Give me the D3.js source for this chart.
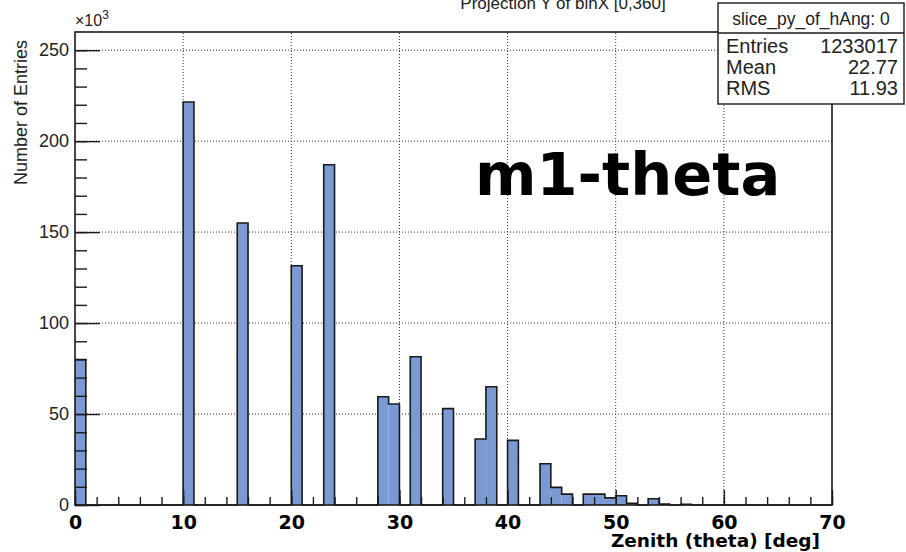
<!DOCTYPE html>
<html>
<head>
<meta charset="utf-8">
<script src="https://cdn.jsdelivr.net/npm/d3@7"></script>
<style>
  body { margin: 0; background: #fff; }
  svg { display: block; }
</style>
</head>
<body>
<div id="chart-area"></div>
<script>
// 1-degree bins (lower edge) and their contents, in units of 10^3 entries
const binLow = [0, 10, 15, 20, 23, 28, 29, 31, 34, 37, 38, 40, 43, 44, 45, 47, 48, 49, 50, 51, 53, 54, 56];
const counts = [80, 221.5, 155, 131.5, 187, 59.5, 55.5, 81.5, 53, 36.3, 65, 35.5, 22.7, 9.7, 6, 6, 6, 3.9, 5.1, 1, 3.4, 0.5, 0.4];

const xMajor = [0, 10, 20, 30, 40, 50, 60, 70];
const yMajor = [0, 50, 100, 150, 200, 250];
const statLabels = ["Entries", "Mean", "RMS"];
const statValues = ["1233017", "22.77", "11.93"];

const width = 906;
const height = 552;
const margin = { top: 32, left: 75, right: 74, bottom: 47 };
const plotW = width - margin.left - margin.right;
const plotH = height - margin.top - margin.bottom;

const svg = d3.select("#chart-area")
              .append("svg")
              .attr("width", width)
              .attr("height", height);

const x = d3.scaleLinear().domain([0, 70]).range([margin.left, margin.left + plotW]);
const y = d3.scaleLinear().domain([0, 260]).range([margin.top + plotH, margin.top]);

// dotted grid at major ticks
svg.append("g")
   .selectAll("line")
   .data(xMajor.filter(d => d > 0 && d < 70))
   .enter()
   .append("line")
   .attr("x1", d => x(d)).attr("x2", d => x(d))
   .attr("y1", y(0)).attr("y2", y(260))
   .attr("stroke", "#333").attr("stroke-width", 1)
   .attr("stroke-dasharray", "1,2");

svg.append("g")
   .selectAll("line")
   .data(yMajor.filter(d => d > 0))
   .enter()
   .append("line")
   .attr("x1", x(0)).attr("x2", x(70))
   .attr("y1", d => y(d)).attr("y2", d => y(d))
   .attr("stroke", "#333").attr("stroke-width", 1)
   .attr("stroke-dasharray", "1,2");

// histogram fill
const bins = binLow.map((b, i) => ({ lo: b, v: counts[i] }));
svg.append("g")
   .selectAll("rect")
   .data(bins)
   .enter()
   .append("rect")
   .attr("x", d => x(d.lo))
   .attr("width", d => x(d.lo + 1) - x(d.lo))
   .attr("y", d => y(d.v))
   .attr("height", d => y(0) - y(d.v))
   .attr("fill", "#7b9ad3");

// histogram outline as a step line
const steps = d3.range(0, 71).map(i => {
  const k = binLow.indexOf(i);
  return [i, k >= 0 ? counts[k] : 0];
});
steps[70][1] = 0;
svg.append("path")
   .datum(steps)
   .attr("fill", "none")
   .attr("stroke", "#1a1a1a")
   .attr("stroke-width", 1.6)
   .attr("d", d3.line().x(d => x(d[0])).y(d => y(d[1])).curve(d3.curveStepAfter));

// y axis ticks
svg.append("g")
   .attr("transform", `translate(${margin.left},0)`)
   .call(d3.axisLeft(y).tickValues(d3.range(0, 260, 10)).tickSize(-12).tickFormat(""))
   .call(g => g.select(".domain").remove())
   .call(g => g.selectAll("line").attr("stroke", "#1a1a1a").attr("stroke-width", 1.4));

svg.append("g")
   .attr("transform", `translate(${margin.left},0)`)
   .call(d3.axisLeft(y).tickValues(yMajor).tickSize(-25).tickPadding(6))
   .call(g => g.select(".domain").remove())
   .call(g => g.selectAll("line").attr("stroke", "#1a1a1a").attr("stroke-width", 1.4))
   .call(g => g.selectAll("text")
               .attr("font-family", "'Liberation Sans', Arial, sans-serif")
               .attr("font-size", 18)
               .attr("fill", "#222"));

// x axis ticks
svg.append("g")
   .attr("transform", `translate(0,${margin.top + plotH})`)
   .call(d3.axisBottom(x).tickValues(d3.range(0, 71, 2)).tickSize(-8).tickFormat(""))
   .call(g => g.select(".domain").remove())
   .call(g => g.selectAll("line").attr("stroke", "#1a1a1a").attr("stroke-width", 1.4));

svg.append("g")
   .attr("transform", `translate(0,${margin.top + plotH})`)
   .call(d3.axisBottom(x).tickValues(xMajor).tickSize(-15).tickPadding(11))
   .call(g => g.select(".domain").remove())
   .call(g => g.selectAll("line").attr("stroke", "#1a1a1a").attr("stroke-width", 1.4))
   .call(g => g.selectAll("text")
               .attr("font-family", "'DejaVu Sans', sans-serif")
               .attr("font-weight", "bold")
               .attr("font-size", 19)
               .attr("fill", "#000"));

// frame
svg.append("rect")
   .attr("x", margin.left).attr("y", margin.top)
   .attr("width", plotW).attr("height", plotH)
   .attr("fill", "none").attr("stroke", "#1a1a1a").attr("stroke-width", 1.6);

// axis titles
svg.append("text")
   .attr("text-anchor", "end")
   .attr("transform", "translate(27,40) rotate(-90)")
   .attr("font-family", "'Liberation Sans', Arial, sans-serif")
   .attr("font-size", 18)
   .attr("fill", "#222")
   .text("Number of Entries");

svg.append("text")
   .attr("text-anchor", "end")
   .attr("x", 820)
   .attr("y", 547)
   .attr("font-family", "'DejaVu Sans', sans-serif")
   .attr("font-weight", "bold")
   .attr("font-size", 18.5)
   .attr("fill", "#000")
   .text("Zenith (theta) [deg]");

const expo = svg.append("text")
   .attr("x", 75)
   .attr("y", 26)
   .attr("font-family", "'Liberation Sans', Arial, sans-serif")
   .attr("font-size", 16)
   .attr("fill", "#222");
expo.append("tspan").text("\u00d710");
expo.append("tspan").attr("dy", -7).attr("font-size", 12).text("3");

// title, mostly above the page edge
svg.append("text")
   .attr("text-anchor", "middle")
   .attr("x", 563)
   .attr("y", 9)
   .attr("font-family", "'Liberation Sans', Arial, sans-serif")
   .attr("font-size", 17)
   .attr("fill", "#222")
   .text("Projection Y of binX [0,360]");

// big label
svg.append("text")
   .attr("x", 475)
   .attr("y", 195)
   .attr("font-family", "'DejaVu Sans', sans-serif")
   .attr("font-weight", "bold")
   .attr("font-size", 59)
   .attr("fill", "#000")
   .text("m1-theta");

// stats box
const box = { x: 718, y: 3, w: 186, h: 101, head: 30 };
svg.append("rect")
   .attr("x", box.x).attr("y", box.y)
   .attr("width", box.w).attr("height", box.h)
   .attr("fill", "#fff").attr("stroke", "#1a1a1a").attr("stroke-width", 1.4);
svg.append("line")
   .attr("x1", box.x).attr("x2", box.x + box.w)
   .attr("y1", box.y + box.head).attr("y2", box.y + box.head)
   .attr("stroke", "#1a1a1a").attr("stroke-width", 1.4);
svg.append("text")
   .attr("text-anchor", "middle")
   .attr("x", box.x + box.w / 2)
   .attr("y", box.y + 22)
   .attr("font-family", "'Liberation Sans', Arial, sans-serif")
   .attr("font-size", 17.5)
   .attr("fill", "#222")
   .text("slice_py_of_hAng: 0");

statLabels.forEach((lab, i) => {
  const yy = box.y + box.head + 20 + i * 21;
  svg.append("text")
     .attr("x", box.x + 8).attr("y", yy)
     .attr("font-family", "'Liberation Sans', Arial, sans-serif")
     .attr("font-size", 20).attr("fill", "#222")
     .text(lab);
  svg.append("text")
     .attr("text-anchor", "end")
     .attr("x", box.x + box.w - 6).attr("y", yy)
     .attr("font-family", "'Liberation Sans', Arial, sans-serif")
     .attr("font-size", 20).attr("fill", "#222")
     .text(statValues[i]);
});
</script>
</body>
</html>
